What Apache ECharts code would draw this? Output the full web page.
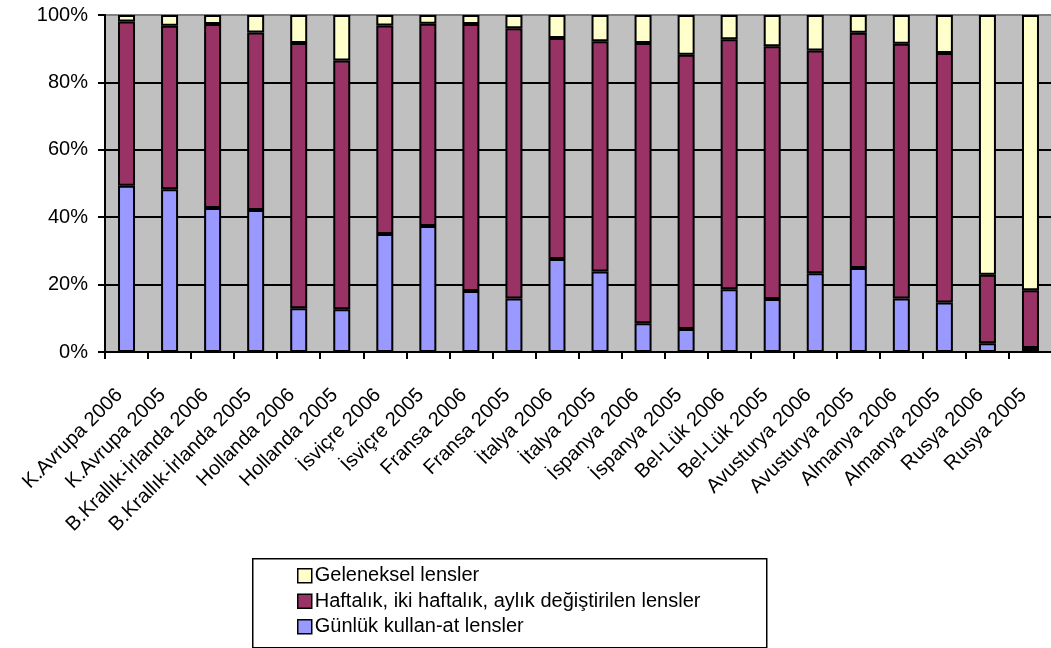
<!DOCTYPE html>
<html>
<head>
<meta charset="utf-8">
<script src="https://cdn.jsdelivr.net/npm/echarts@6/dist/echarts.min.js"></script>
<style>
html,body{margin:0;padding:0;background:#fff;}
#chart{width:1051px;height:648px;}
</style>
</head>
<body>
<div id="chart"></div>
<script>
const categories = ["K.Avrupa 2006","K.Avrupa 2005","B.Krallık-İrlanda 2006","B.Krallık-İrlanda 2005","Hollanda 2006","Hollanda 2005","İsviçre 2006","İsviçre 2005","Fransa 2006","Fransa 2005","İtalya 2006","İtalya 2005","İspanya 2006","İspanya 2005","Bel-Lük 2006","Bel-Lük 2005","Avusturya 2006","Avusturya 2005","Almanya 2006","Almanya 2005","Rusya 2006","Rusya 2005"];
const gunluk = [49.3,48.3,42.7,42.1,13.0,12.7,35.0,37.4,18.1,15.9,27.6,23.9,8.5,6.8,18.6,15.7,23.4,24.9,15.9,14.7,2.6,1.2];
const haftalik = [48.8,48.5,54.6,52.7,78.7,73.8,61.9,60.0,79.2,80.2,65.6,68.3,83.2,81.4,74.2,75.0,66.1,69.8,75.6,74.0,20.3,17.1];
const geleneksel = [1.9,3.2,2.7,5.2,8.3,13.5,3.1,2.6,2.7,3.9,6.8,7.8,8.3,11.8,7.2,9.3,10.5,5.3,8.5,11.3,77.1,81.7];
const yTicks = [0,20,40,60,80,100];
const names = ["Günlük kullan-at lensler","Haftalık, iki haftalık, aylık değiştirilen lensler","Geleneksel lensler"];

const font = "'Liberation Sans', Arial, sans-serif";
const chart = echarts.init(document.getElementById('chart'), null, {renderer:'canvas'});
const barStyle = (c) => ({color:c, borderColor:'#000', borderWidth:2});
chart.setOption({
  animation:false,
  backgroundColor:'#fff',
  textStyle:{fontFamily:font},
  grid:{left:105, right:-1, top:15, bottom:296, show:true, backgroundColor:'#C0C0C0', borderColor:'#808080', borderWidth:2, containLabel:false, outerBoundsMode:'none'},
  graphic:[{
    type:'rect', left:252, top:558, z:0,
    shape:{width:514, height:89},
    style:{fill:'#fff', stroke:'#000', lineWidth:1.5}
  }],
  legend:{
    data:[names[2],names[1],names[0]],
    orient:'vertical', left:297, top:563, z:5,
    padding:0, itemGap:0,
    itemWidth:14, itemHeight:14, icon:'rect',
    itemStyle:{borderColor:'#000', borderWidth:1.5},
    textStyle:{fontFamily:font, fontSize:20, color:'#000', lineHeight:25.5, padding:[0,0,0,-2]}
  },
  xAxis:{
    type:'category', data:categories,
    axisLine:{lineStyle:{color:'#000', width:2}},
    axisTick:{show:true, length:7, lineStyle:{color:'#000', width:2}},
    axisLabel:{interval:0, rotate:45, fontFamily:font, fontSize:20, color:'#000', margin:33, padding:[0,10,20,0]}
  },
  yAxis:{
    type:'value', min:yTicks[0], max:yTicks[yTicks.length-1], interval:20,
    axisLine:{show:true, lineStyle:{color:'#000', width:2}},
    axisTick:{show:true, length:7, lineStyle:{color:'#000', width:2}},
    axisLabel:{formatter:'{value}%', fontFamily:font, fontSize:20, color:'#000', margin:17},
    splitLine:{show:true, showMaxLine:false, lineStyle:{color:'#000', width:2}}
  },
  series:[
    {name:names[0], type:'bar', stack:'s', data:gunluk, barWidth:17, itemStyle:barStyle('#9999FF')},
    {name:names[1], type:'bar', stack:'s', data:haftalik, barWidth:17, itemStyle:barStyle('#993366')},
    {name:names[2], type:'bar', stack:'s', data:geleneksel, barWidth:17, itemStyle:barStyle('#FFFFCC')}
  ]
});
</script>
</body>
</html>
